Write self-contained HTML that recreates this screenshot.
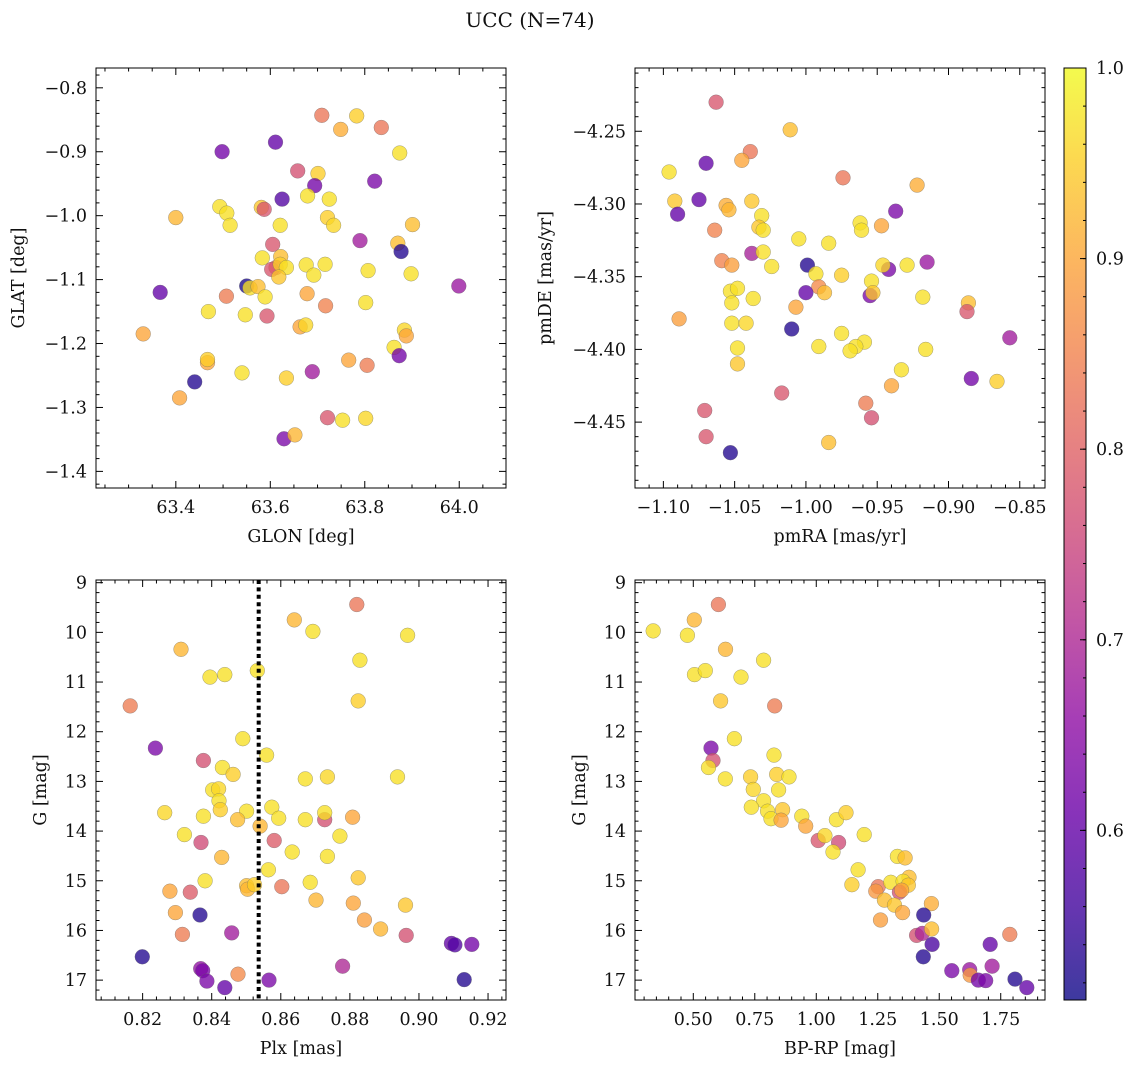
<!DOCTYPE html>
<html><head><meta charset="utf-8"><title>UCC (N=74)</title>
<style>
html,body{margin:0;padding:0;background:#fff;}
svg{display:block;font-family:"DejaVu Serif","Liberation Serif",serif;}
</style></head>
<body>
<svg id="fig" xmlns="http://www.w3.org/2000/svg" width="1136" height="1067" viewBox="0 0 1136 1067">
<rect x="0" y="0" width="1136" height="1067" fill="#fff"/>
<text x="530" y="27" font-size="20" text-anchor="middle" fill="#111">UCC (N=74)</text>
</svg>
<script>
const glonVals=[63.709,63.783,63.749,63.835,63.498,63.611,63.874,63.658,63.701,63.694,63.821,63.679,63.725,63.625,63.493,63.508,63.581,63.587,63.400,63.515,63.621,63.721,63.734,63.901,63.790,63.605,63.870,63.877,63.583,63.622,63.612,63.603,63.621,63.634,63.618,63.676,63.716,63.692,63.807,63.898,63.999,63.367,63.550,63.557,63.574,63.507,63.589,63.678,63.717,63.802,63.469,63.547,63.593,63.663,63.675,63.331,63.884,63.888,63.862,63.873,63.467,63.467,63.766,63.805,63.540,63.634,63.689,63.440,63.408,63.721,63.753,63.802,63.629,63.652];
const glatVals=[-0.843,-0.844,-0.865,-0.862,-0.900,-0.885,-0.902,-0.930,-0.934,-0.953,-0.946,-0.969,-0.974,-0.974,-0.986,-0.996,-0.987,-0.990,-1.003,-1.015,-1.015,-1.003,-1.015,-1.014,-1.039,-1.045,-1.043,-1.056,-1.066,-1.064,-1.081,-1.084,-1.076,-1.081,-1.096,-1.077,-1.076,-1.093,-1.086,-1.091,-1.110,-1.120,-1.110,-1.113,-1.111,-1.126,-1.127,-1.122,-1.141,-1.136,-1.150,-1.155,-1.157,-1.174,-1.171,-1.185,-1.179,-1.188,-1.206,-1.219,-1.230,-1.225,-1.226,-1.234,-1.246,-1.254,-1.244,-1.260,-1.285,-1.316,-1.320,-1.317,-1.349,-1.343];
const probTL=[0.83,0.95,0.91,0.83,0.62,0.60,0.97,0.77,0.95,0.62,0.63,0.97,0.97,0.58,0.97,0.97,0.94,0.78,0.92,0.97,0.97,0.95,0.96,0.93,0.68,0.78,0.93,0.53,0.97,0.93,0.80,0.78,0.95,0.97,0.94,0.97,0.97,0.97,0.97,0.97,0.67,0.60,0.52,0.97,0.93,0.84,0.97,0.90,0.85,0.97,0.97,0.97,0.78,0.90,0.96,0.90,0.96,0.90,0.97,0.62,0.90,0.95,0.90,0.84,0.97,0.95,0.68,0.53,0.90,0.78,0.97,0.96,0.63,0.92];

const pmraVals=[-1.063,-1.011,-1.039,-1.045,-1.070,-1.096,-0.974,-0.922,-1.092,-1.075,-1.056,-1.054,-1.038,-1.090,-1.031,-1.033,-1.030,-0.937,-0.962,-0.961,-0.947,-1.064,-1.005,-0.984,-1.038,-1.030,-1.059,-1.052,-1.024,-0.999,-0.993,-0.975,-0.942,-0.946,-0.929,-0.915,-0.954,-0.991,-0.987,-1.000,-0.955,-0.953,-1.053,-1.048,-1.037,-1.052,-1.007,-0.918,-0.886,-0.887,-1.089,-1.052,-1.042,-1.010,-0.975,-0.959,-0.965,-0.969,-0.991,-1.048,-0.916,-0.857,-1.048,-0.933,-0.940,-0.884,-0.866,-1.017,-0.958,-1.071,-0.954,-1.070,-0.984,-1.053];
const pmdeVals=[-4.230,-4.249,-4.264,-4.270,-4.272,-4.278,-4.282,-4.287,-4.298,-4.297,-4.301,-4.304,-4.298,-4.307,-4.308,-4.316,-4.318,-4.305,-4.313,-4.318,-4.315,-4.318,-4.324,-4.327,-4.334,-4.333,-4.339,-4.342,-4.343,-4.342,-4.348,-4.349,-4.345,-4.342,-4.342,-4.340,-4.353,-4.357,-4.361,-4.361,-4.363,-4.361,-4.360,-4.358,-4.365,-4.368,-4.371,-4.364,-4.368,-4.374,-4.379,-4.382,-4.382,-4.386,-4.389,-4.395,-4.398,-4.401,-4.398,-4.399,-4.400,-4.392,-4.410,-4.414,-4.425,-4.420,-4.422,-4.430,-4.437,-4.442,-4.447,-4.460,-4.464,-4.471];
const probTR=[0.78,0.93,0.83,0.90,0.60,0.97,0.83,0.91,0.94,0.60,0.91,0.92,0.94,0.60,0.97,0.94,0.97,0.63,0.97,0.97,0.90,0.85,0.97,0.97,0.69,0.97,0.85,0.89,0.97,0.53,0.97,0.95,0.63,0.96,0.97,0.67,0.97,0.86,0.93,0.60,0.63,0.94,0.97,0.97,0.97,0.97,0.90,0.97,0.93,0.78,0.89,0.97,0.96,0.53,0.97,0.97,0.97,0.97,0.97,0.97,0.97,0.68,0.94,0.97,0.90,0.62,0.95,0.78,0.84,0.78,0.77,0.78,0.93,0.53];

const plxVals=[0.8820,0.8639,0.8693,0.8967,0.8311,0.8829,0.8395,0.8438,0.8532,0.8824,0.8164,0.8490,0.8237,0.8559,0.8376,0.8431,0.8462,0.8671,0.8735,0.8938,0.8403,0.8420,0.8421,0.8425,0.8264,0.8376,0.8501,0.8475,0.8574,0.8594,0.8671,0.8727,0.8727,0.8808,0.8540,0.8321,0.8369,0.8581,0.8771,0.8429,0.8633,0.8735,0.8564,0.8381,0.8824,0.8685,0.8501,0.8504,0.8524,0.8603,0.8279,0.8338,0.8702,0.8810,0.8961,0.8295,0.8366,0.8842,0.8889,0.8315,0.8458,0.8963,0.9094,0.9104,0.9153,0.8199,0.8779,0.8368,0.8374,0.8386,0.8476,0.8438,0.8566,0.9131];
const gPlxVals=[9.44,9.75,9.98,10.06,10.34,10.56,10.90,10.85,10.77,11.38,11.48,12.14,12.33,12.47,12.58,12.72,12.86,12.95,12.91,12.91,13.17,13.15,13.39,13.57,13.63,13.70,13.60,13.77,13.52,13.74,13.77,13.77,13.63,13.72,13.90,14.07,14.23,14.19,14.10,14.53,14.42,14.51,14.78,15.00,14.94,15.03,15.10,15.17,15.08,15.12,15.21,15.23,15.39,15.45,15.49,15.64,15.69,15.79,15.97,16.08,16.05,16.10,16.26,16.29,16.28,16.53,16.72,16.77,16.81,17.02,16.88,17.15,17.00,16.99];
const probBL=[0.83,0.92,0.97,0.97,0.92,0.97,0.97,0.97,0.97,0.95,0.84,0.97,0.63,0.97,0.77,0.97,0.95,0.97,0.96,0.97,0.97,0.96,0.97,0.95,0.96,0.97,0.97,0.93,0.97,0.97,0.97,0.77,0.97,0.90,0.92,0.97,0.76,0.79,0.97,0.92,0.97,0.97,0.97,0.97,0.94,0.97,0.93,0.92,0.95,0.83,0.90,0.79,0.92,0.90,0.94,0.90,0.53,0.89,0.92,0.84,0.68,0.77,0.60,0.58,0.62,0.53,0.70,0.66,0.63,0.63,0.86,0.60,0.63,0.53];
const meanPlx=0.8536;

const bprpVals=[0.337,0.504,0.602,0.476,0.631,0.786,0.505,0.549,0.694,0.611,0.831,0.667,0.572,0.580,0.562,0.630,0.828,0.733,0.839,0.889,0.744,0.847,0.786,0.736,0.802,0.863,0.816,0.857,0.941,0.957,1.082,1.121,1.008,1.035,1.091,1.068,1.195,1.170,1.145,1.330,1.361,1.252,1.242,1.303,1.377,1.353,1.374,1.338,1.347,1.277,1.318,1.351,1.468,1.261,1.437,1.408,1.431,1.469,1.471,1.435,1.551,1.624,1.626,1.659,1.689,1.707,1.715,1.787,1.808,1.856];
const gCmdVals=[9.97,9.75,9.44,10.06,10.34,10.56,10.85,10.77,10.90,11.38,11.48,12.14,12.33,12.58,12.72,12.95,12.47,12.91,12.86,12.91,13.16,13.17,13.39,13.52,13.60,13.57,13.75,13.78,13.70,13.90,13.77,13.63,14.19,14.09,14.23,14.42,14.07,14.78,15.08,14.51,14.54,15.12,15.21,15.03,14.93,15.01,15.09,15.23,15.19,15.39,15.49,15.64,15.46,15.79,15.69,16.10,16.06,15.97,16.28,16.53,16.81,16.79,16.90,17.00,17.01,16.28,16.72,16.08,16.98,17.15];
const probBR=[0.97,0.92,0.83,0.97,0.92,0.97,0.97,0.97,0.97,0.94,0.84,0.97,0.63,0.77,0.97,0.97,0.97,0.95,0.95,0.97,0.96,0.97,0.97,0.97,0.97,0.94,0.97,0.90,0.97,0.90,0.97,0.95,0.78,0.96,0.76,0.97,0.97,0.97,0.95,0.97,0.93,0.83,0.88,0.97,0.93,0.97,0.94,0.77,0.90,0.93,0.94,0.90,0.91,0.89,0.53,0.77,0.70,0.93,0.57,0.53,0.63,0.67,0.88,0.62,0.63,0.60,0.68,0.84,0.53,0.60];

const cbTicks=[0.6,0.7,0.8,0.9,1.0];
const vmin=0.511, vmax=1.0;

const NS='http://www.w3.org/2000/svg';
const fig=document.getElementById('fig');
const TICKFS=17.5, LABFS=17.5;
function el(tag,attrs,parent){const e=document.createElementNS(NS,tag);for(const k in attrs)e.setAttribute(k,attrs[k]);(parent||fig).appendChild(e);return e;}
const plasmaStops=[[13,8,135],[65,4,157],[106,0,168],[143,13,164],[177,42,144],[204,71,120],[225,100,98],[242,132,75],[252,166,54],[252,206,37],[240,249,33]];
function plasma(t){t=Math.max(0,Math.min(1,t));const s=t*10;const i=Math.min(9,Math.floor(s));const f=s-i;const a=plasmaStops[i],b=plasmaStops[i+1];return 'rgb('+[0,1,2].map(j=>Math.round(a[j]+(b[j]-a[j])*f)).join(',')+')';}
function cmap(v){return plasma((v-vmin)/(vmax-vmin));}
function fmtNum(v,d){const s=Math.abs(v).toFixed(d);return (v<-1e-9?'\u2212':'')+s;}

function drawPanel(p){
  const g=el('g',{});
  
  
  const sx=v=>p.x0+(v-p.xmin)/(p.xmax-p.xmin)*p.w;
  const sy=v=>p.y0+(v-p.yTop)/(p.yBot-p.yTop)*p.h;
  const pg=el('g',{},g);
  
  
  for(let i=0;i<p.xs.length;i++){
    const c=el('circle',{cx:sx(p.xs[i]).toFixed(1),cy:sy(p.ys[i]).toFixed(1),r:7.4,fill:cmap(p.cs[i]),'fill-opacity':0.78,stroke:'#666','stroke-opacity':0.6,'stroke-width':0.5},pg);
    
    
  }
  if(p.vline!==undefined){
    const l=el('line',{x1:sx(p.vline),x2:sx(p.vline),y1:p.y0,y2:p.y0+p.h,stroke:'#000','stroke-width':4,'stroke-dasharray':'4 3.4'},g);
    
    
  }
  const fr=el('rect',{x:p.x0,y:p.y0,width:p.w,height:p.h,fill:'none',stroke:'#000','stroke-width':1},g);
  
  
  const tg=el('g',{stroke:'#000','stroke-width':1},g);
  
  
  const lo=Math.min(p.xmin,p.xmax),hi=Math.max(p.xmin,p.xmax);
  for(let k=Math.ceil(lo/p.xMinor-1e-6);k*p.xMinor<=hi+1e-9;k++){
    const v=k*p.xMinor;const isMaj=Math.abs(v/p.xMajor-Math.round(v/p.xMajor))<1e-4;const L=isMaj?7:3.5;const X=sx(v);
    el('line',{x1:X,x2:X,y1:p.y0+p.h,y2:p.y0+p.h-L},tg);el('line',{x1:X,x2:X,y1:p.y0,y2:p.y0+L},tg);
    if(isMaj){const t=el('text',{x:X,y:p.y0+p.h+25,'font-size':TICKFS,'text-anchor':'middle',fill:'#111',stroke:'none'},g);t.textContent=fmtNum(v,p.xd);}
  }
  const ylo=Math.min(p.yTop,p.yBot),yhi=Math.max(p.yTop,p.yBot);
  for(let k=Math.ceil(ylo/p.yMinor-1e-6);k*p.yMinor<=yhi+1e-9;k++){
    const v=k*p.yMinor;const isMaj=Math.abs(v/p.yMajor-Math.round(v/p.yMajor))<1e-4;const L=isMaj?7:3.5;const Y=sy(v);
    el('line',{x1:p.x0,x2:p.x0+L,y1:Y,y2:Y},tg);el('line',{x1:p.x0+p.w,x2:p.x0+p.w-L,y1:Y,y2:Y},tg);
    if(isMaj){const t=el('text',{x:p.x0-9,y:Y+6,'font-size':TICKFS,'text-anchor':'end',fill:'#111',stroke:'none'},g);t.textContent=fmtNum(v,p.yd);}
  }
  const xl=el('text',{x:p.x0+p.w/2,y:p.y0+p.h+54,'font-size':LABFS,'text-anchor':'middle',fill:'#111'},g);
  xl.textContent=p.xlabel;
  const yl=el('text',{x:0,y:0,'font-size':LABFS,'text-anchor':'middle',fill:'#111',transform:'translate('+p.ylx+','+(p.y0+p.h/2)+') rotate(-90)'},g);
  yl.textContent=p.ylabel;
}

drawPanel({name:'glon-glat-panel',x0:96,y0:68,w:410,h:420,xmin:63.231,xmax:64.099,yTop:-0.769,yBot:-1.426,xMajor:0.2,xMinor:0.05,yMajor:0.1,yMinor:0.02,xd:1,yd:1,xlabel:'GLON [deg]',ylabel:'GLAT [deg]',ylx:24,xs:glonVals,ys:glatVals,cs:probTL});
drawPanel({name:'pm-panel',x0:635,y0:68,w:410,h:420,xmin:-1.1199,xmax:-0.8323,yTop:-4.2065,yBot:-4.4953,xMajor:0.05,xMinor:0.01,yMajor:0.05,yMinor:0.01,xd:2,yd:2,xlabel:'pmRA [mas/yr]',ylabel:'pmDE [mas/yr]',ylx:551,xs:pmraVals,ys:pmdeVals,cs:probTR});
drawPanel({name:'plx-g-panel',x0:96,y0:580,w:410,h:420,xmin:0.8065,xmax:0.9252,yTop:8.946,yBot:17.40,xMajor:0.02,xMinor:0.004,yMajor:1,yMinor:0.2,xd:2,yd:0,xlabel:'Plx [mas]',ylabel:'G [mag]',ylx:46,xs:plxVals,ys:gPlxVals,cs:probBL,vline:meanPlx});
drawPanel({name:'cmd-panel',x0:635,y0:580,w:410,h:420,xmin:0.263,xmax:1.930,yTop:8.946,yBot:17.40,xMajor:0.25,xMinor:0.05,yMajor:1,yMinor:0.2,xd:2,yd:0,xlabel:'BP-RP [mag]',ylabel:'G [mag]',ylx:585,xs:bprpVals,ys:gCmdVals,cs:probBR});

(function(){
  const x0=1064,y0=68,w=22,h=932;
  const defs=el('defs',{});
  const lg=el('linearGradient',{id:'cbgrad',x1:0,y1:1,x2:0,y2:0},defs);
  for(let i=0;i<=20;i++){el('stop',{offset:(i/20),'stop-color':plasma(i/20)},lg);}
  const g=el('g',{});
  
  
  const r=el('rect',{x:x0,y:y0,width:w,height:h,fill:'url(#cbgrad)','fill-opacity':0.8,stroke:'none'},g);
  
  
  const b=el('rect',{x:x0,y:y0,width:w,height:h,fill:'none',stroke:'#000','stroke-width':1},g);
  
  
  const sy=v=>y0+(vmax-v)/(vmax-vmin)*h;
  for(let k=Math.ceil(vmin/0.02);k*0.02<=vmax+1e-9;k++){const Y=sy(k*0.02);el('line',{x1:x0+w,x2:x0+w-3,y1:Y,y2:Y,stroke:'#000','stroke-width':1},g);}
  cbTicks.forEach(v=>{const Y=sy(v);el('line',{x1:x0+w,x2:x0+w-6,y1:Y,y2:Y,stroke:'#000','stroke-width':1},g);
    const t=el('text',{x:x0+w+10,y:Y+6,'font-size':TICKFS,fill:'#111'},g);t.textContent=v.toFixed(1);
    
    });
})();
</script>
</body></html>
